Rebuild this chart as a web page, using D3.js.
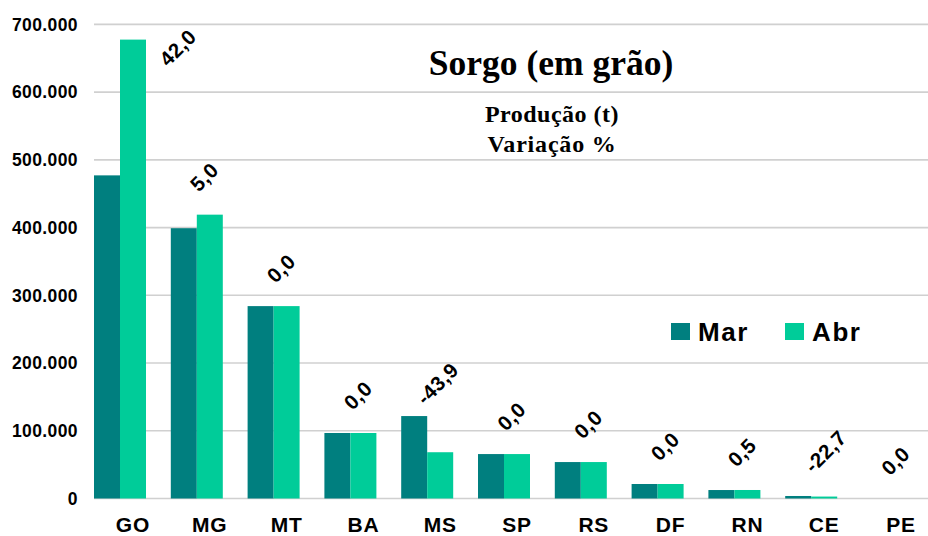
<!DOCTYPE html>
<html>
<head>
<meta charset="utf-8">
<script src="https://cdn.jsdelivr.net/npm/d3@7"></script>
<style>
  body { margin: 0; background: #fff; }
  svg { display: block; }
</style>
</head>
<body>
<div id="chart"></div>
<script>
const width = 928, height = 536;

// data
const categories = ['GO', 'MG', 'MT', 'BA', 'MS', 'SP', 'RS', 'DF', 'RN', 'CE', 'PE'];
const seriesNames = ['Mar', 'Abr'];
const marValues = [477000, 399000, 284000, 96700, 121700, 65600, 53800, 21400, 12500, 3700, 0];
const abrValues = [677400, 419000, 284000, 96700, 68300, 65600, 53800, 21400, 12560, 2860, 0];
const variation = [42.0, 5.0, 0.0, 0.0, -43.9, 0.0, 0.0, 0.0, 0.5, -22.7, 0.0];
const yTicks = [0, 100000, 200000, 300000, 400000, 500000, 600000, 700000];

const colors = ['#007f7f', '#00cc99'];
const sans = '"Liberation Sans", Arial, sans-serif';
const serif = '"Liberation Serif", "Times New Roman", serif';

const locale = d3.formatLocale({decimal: ',', thousands: '.', grouping: [3], currency: ['', ''], minus: '-'});
const fmtThousands = locale.format(',.0f');
const fmtPct = locale.format('.1f');

const gridLeft = 94, gridRight = 928;

const x0 = d3.scaleBand()
    .domain(categories)
    .range([81.6, 926.4])
    .paddingInner(24.8 / 76.8)
    .paddingOuter(12.4 / 76.8);
const x1 = d3.scaleBand()
    .domain(seriesNames)
    .range([0, x0.bandwidth()]);
const y = d3.scaleLinear()
    .domain([0, 700000])
    .range([498.5, 24.3]);

const svg = d3.select('#chart').append('svg')
    .attr('width', width)
    .attr('height', height);

// gridlines
svg.append('g')
  .selectAll('line')
  .data(yTicks)
  .join('line')
    .attr('x1', gridLeft)
    .attr('x2', gridRight)
    .attr('y1', d => y(d))
    .attr('y2', d => y(d))
    .attr('stroke', '#d0d0d0')
    .attr('stroke-width', 1.7);

// y axis labels
svg.append('g')
  .selectAll('text')
  .data(yTicks)
  .join('text')
    .attr('x', 78)
    .attr('y', d => y(d) + 6.3)
    .attr('text-anchor', 'end')
    .attr('font-family', sans)
    .attr('font-weight', 'bold')
    .attr('font-size', 17.5)
    .attr('letter-spacing', 0.4)
    .text(d => fmtThousands(d));

// title
svg.append('text')
    .attr('x', 551).attr('y', 75)
    .attr('text-anchor', 'middle')
    .attr('font-family', serif)
    .attr('font-weight', 'bold')
    .attr('font-size', 35.5)
    .text('Sorgo (em grão)');
svg.append('text')
    .attr('x', 552).attr('y', 122)
    .attr('text-anchor', 'middle')
    .attr('font-family', serif)
    .attr('font-weight', 'bold')
    .attr('font-size', 24)
    .attr('letter-spacing', 0.5)
    .text('Produção (t)');
svg.append('text')
    .attr('x', 552).attr('y', 152)
    .attr('text-anchor', 'middle')
    .attr('font-family', serif)
    .attr('font-weight', 'bold')
    .attr('font-size', 24)
    .attr('letter-spacing', 0.8)
    .text('Variação %');

// bars
const rows = categories.map((c, i) => ({cat: c, values: [marValues[i], abrValues[i]], v: variation[i]}));

const groups = svg.append('g')
  .selectAll('g')
  .data(rows)
  .join('g')
    .attr('transform', d => 'translate(' + x0(d.cat) + ',0)');

groups.selectAll('rect')
  .data(d => d.values.map((v, j) => ({name: seriesNames[j], value: v, j: j})))
  .join('rect')
    .attr('x', d => x1(d.name))
    .attr('y', d => y(d.value))
    .attr('width', x1.bandwidth())
    .attr('height', d => y(0) - y(d.value))
    .attr('fill', d => colors[d.j]);

// variation labels (GO and MS were moved by hand in the original)
const nudge = {GO: [46, 50], MS: [-4, 12]};
groups.append('text')
    .attr('transform', d => {
        let n = nudge[d.cat] || [0, 0];
        let px = x1('Abr') + 2 + n[0];
        let py = y(d3.max(d.values)) - 22 + n[1];
        return 'translate(' + px + ',' + py + ') rotate(-45)';
    })
    .attr('font-family', sans)
    .attr('font-weight', 'bold')
    .attr('font-size', 20.5)
    .attr('letter-spacing', 0.5)
    .text(d => fmtPct(d.v));

// category labels
groups.append('text')
    .attr('x', x0.bandwidth() / 2 + 13)
    .attr('y', 532)
    .attr('text-anchor', 'middle')
    .attr('font-family', sans)
    .attr('font-weight', 'bold')
    .attr('font-size', 21)
    .attr('letter-spacing', 0.8)
    .text(d => d.cat);

// legend
const legendX = [671, 785];
const legend = svg.append('g')
  .selectAll('g')
  .data(seriesNames)
  .join('g')
    .attr('transform', (d, i) => 'translate(' + legendX[i] + ',323)');
legend.append('rect')
    .attr('width', 19).attr('height', 17)
    .attr('fill', (d, i) => colors[i]);
legend.append('text')
    .attr('x', 27).attr('y', 17.5)
    .attr('font-family', sans)
    .attr('font-weight', 'bold')
    .attr('font-size', 26)
    .attr('letter-spacing', 1.6)
    .text(d => d);
</script>
</body>
</html>
